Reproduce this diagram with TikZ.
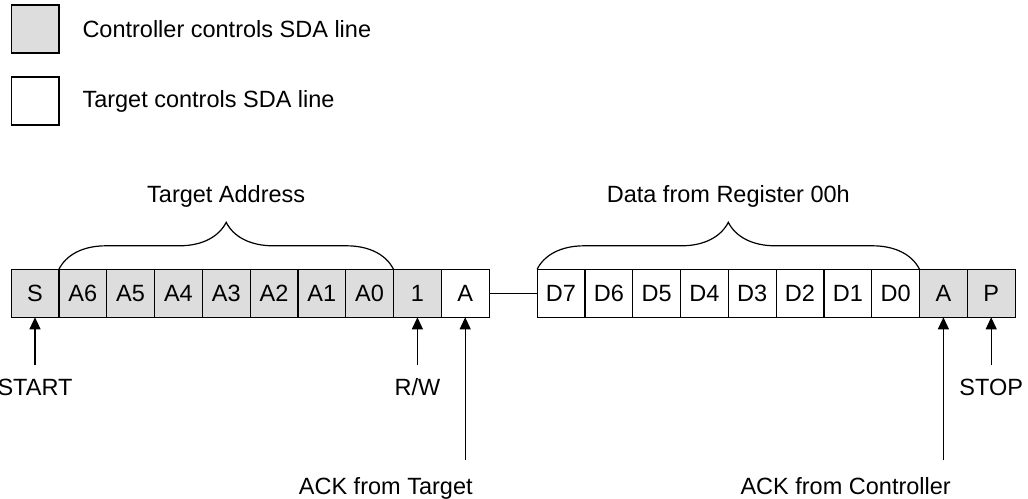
\documentclass[tikz,border=0pt]{standalone}
\usepackage{fontspec}
\setmainfont{Liberation Sans}
\usetikzlibrary{positioning,arrows.meta,decorations.pathreplacing}
\definecolor{ctrlgray}{RGB}{221,221,221}

\begin{document}
\begin{tikzpicture}[x=1pt,y=-1pt,line width=1.2pt,node distance=0pt,
    every node/.style={font=\fontsize{23.5}{28}\selectfont},
    bit/.style={draw,minimum width=47.8pt,minimum height=48pt,inner sep=0pt,outer sep=0pt,
      text height=16.8pt,text depth=0pt},
    ctrl/.style={bit,fill=ctrlgray},
    tgt/.style={bit,fill=white},
    lbl/.style={inner sep=0pt},
    arr/.style={-{Triangle[length=12pt,width=11pt]}},
    grp/.style={decorate,decoration={brace,amplitude=47pt}}]
	\useasboundingbox (0,0) rectangle (1028,498);

	% legend
	\node[ctrl] (legc) at (35,29) {};
	\node[lbl, right=23pt of legc] (legctxt) {Controller controls SDA line};
	\node[tgt] (legt) at (35,101) {};
	\node[lbl, right=23pt of legt] (legttxt) {Target controls SDA line};

	% address byte
	\node[ctrl] (s) at (35,293.3) {S};
	\node[ctrl, right=of s] (a6) {A6};
	\node[ctrl, right=of a6] (a5) {A5};
	\node[ctrl, right=of a5] (a4) {A4};
	\node[ctrl, right=of a4] (a3) {A3};
	\node[ctrl, right=of a3] (a2) {A2};
	\node[ctrl, right=of a2] (a1) {A1};
	\node[ctrl, right=of a1] (a0) {A0};
	\node[ctrl, right=of a0] (rw) {1};
	\node[tgt, right=of rw] (ackt) {A};

	% data byte
	\node[tgt] (d7) at (561,293.3) {D7};
	\node[tgt, right=of d7] (d6) {D6};
	\node[tgt, right=of d6] (d5) {D5};
	\node[tgt, right=of d5] (d4) {D4};
	\node[tgt, right=of d4] (d3) {D3};
	\node[tgt, right=of d3] (d2) {D2};
	\node[tgt, right=of d2] (d1) {D1};
	\node[tgt, right=of d1] (d0) {D0};
	\node[ctrl, right=of d0] (ackc) {A};
	\node[ctrl, right=of ackc] (p) {P};

	\draw (ackt) -- (d7);

	% braces
	\draw[grp] (a6.north west) -- (a0.north east);
	\node[lbl, above=61.6pt of a3.north] (addr) {Target Address};
	\draw[grp] (d7.north west) -- (d0.north east);
	\node[lbl, above=61.6pt of d4.north east] (data) {Data from Register 00h};

	% markers
	\coordinate[below=48pt of s.south] (ste);
	\draw[arr] (ste) -- (s);
	\node[lbl, below=13pt of ste] (sttxt) {START};

	\coordinate[below=48pt of rw.south] (rwe);
	\draw[arr] (rwe) -- (rw);
	\node[lbl, below=13pt of rwe] (rwtxt) {R/W};

	\coordinate[below=143pt of ackt.south] (ate);
	\draw[arr] (ate) -- (ackt);
	\node[lbl, below=17pt of ate, anchor=north east, xshift=8pt] (attxt) {ACK from Target};

	\coordinate[below=143pt of ackc.south] (ace);
	\draw[arr] (ace) -- (ackc);
	\node[lbl, below=17pt of ace, anchor=north east, xshift=8pt] (actxt) {ACK from Controller};

	\coordinate[below=48pt of p.south] (pe);
	\draw[arr] (pe) -- (p);
	\node[lbl, below=13pt of pe] (ptxt) {STOP};
\end{tikzpicture}
\end{document}
